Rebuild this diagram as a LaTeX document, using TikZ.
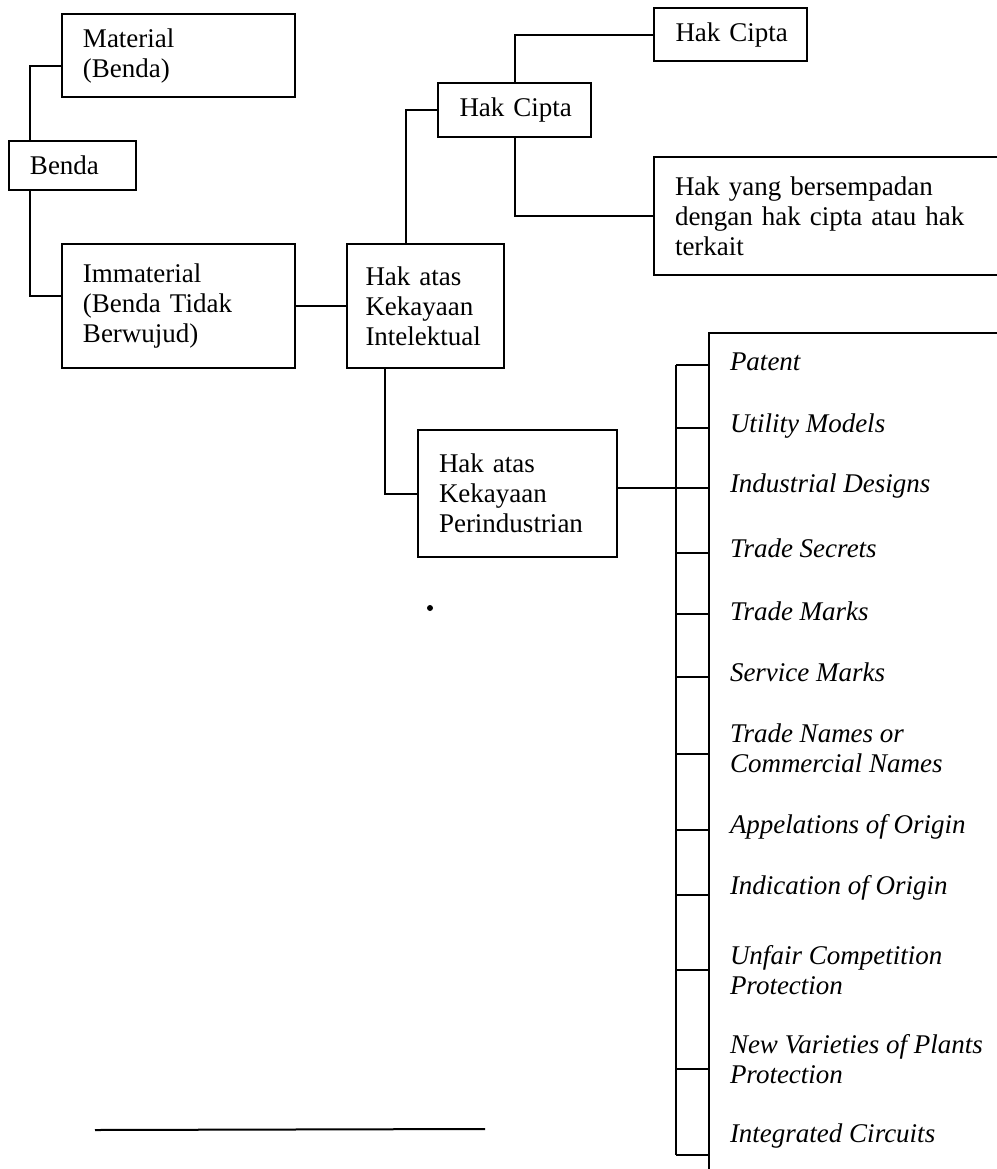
\documentclass[tikz,border=0pt]{standalone}
\usepackage{fontspec}
\setmainfont{Liberation Serif}
\begin{document}
\begin{tikzpicture}[x=0.4pt, y=-0.4pt, line width=0.8pt,
  box/.style = {draw, rectangle, align=left, inner xsep=8.4pt, inner ysep=0pt, font=\fontsize{10.8}{12}\selectfont},
  item/.style = {anchor=west, inner sep=0pt, align=left, font=\fontsize{10.8}{12}\selectfont\itshape}]
\useasboundingbox (0,0) rectangle (997,1169);
\clip (0,0) rectangle (997,1169);

% boxes
\node[box, text width=76.4pt, minimum height=33.2pt] (mat) at (178.5,55.5) {Material\\(Benda)};
\node[box, text width=34pt, minimum height=19.6pt] (benda) at (72.5,165.5) {Benda};
\node[box, text width=76.4pt, minimum height=49.6pt] (imm) at (178.5,306) {Immaterial\\(Benda Tidak\\Berwujud)};
\node[box, text width=48pt, inner xsep=7.5pt, minimum height=49.6pt] (haki) at (425.5,306) {Hak atas\\Kekayaan\\Intelektual};
\node[box, text width=50pt, inner xsep=5.6pt, minimum height=21.6pt] (hcm) at (514.5,110) {\hspace*{3pt}Hak Cipta};
\node[box, text width=50pt, inner xsep=5.6pt, minimum height=21.2pt] (hct) at (730.5,34.5) {\hspace*{3pt}Hak Cipta};
\node[box, text width=125.6pt, minimum height=47.2pt] (hy) at (832,216) {Hak yang bersempadan\\dengan hak cipta atau hak\\terkait};
\node[box, text width=62.8pt, minimum height=50.8pt] (hakp) at (517.5,493.5) {Hak atas\\Kekayaan\\Perindustrian};

% connectors
\draw ([yshift=-4.2pt]mat.west) -| ([xshift=-17pt]benda.north);
\draw ([xshift=-17pt]benda.south) |- ([yshift=4pt]imm.west);
\draw (imm.east) -- (haki.west);
\draw ([xshift=-7.8pt]haki.north) |- (hcm.west);
\draw (hcm.north) |- (hct.west);
\draw (hcm.south) |- (hy.west);
\draw ([xshift=-16.2pt]haki.south) |- (hakp.west);
\draw ([yshift=2.2pt]hakp.east) -- +(23.6pt,0);

% bracket of the list
\draw (676,365) -- (676,1155);
\foreach \t in {365,428,488,553,614,677,754,830,895,970,1069,1155}
  \draw (676,\t) -- (709,\t);
\draw (1010,333) -- (709,333) -- (709,1180);

% list
\node[item] (pat) at (729,362) {Patent};
\node[item] (util) at (729,426) {Utility Models};
\node[item] (indd) at (729,486) {Industrial Designs};
\node[item] (trsec) at (729,548) {Trade Secrets};
\node[item] (trmk) at (729,611) {Trade Marks};
\node[item] (svmk) at (729,672) {Service Marks};
\node[item] (trnm) at (729,748) {Trade Names or\\Commercial Names};
\node[item] (appor) at (729,827) {Appelations of Origin};
\node[item] (indor) at (729,888) {Indication of Origin};
\node[item] (unfair) at (729,970) {Unfair Competition\\Protection};
\node[item] (plants) at (729,1059) {New Varieties of Plants\\Protection};
\node[item] (intc) at (729,1136) {Integrated Circuits};

% footnote rule and speck
\draw (95,1130) -- (485,1129);
\fill (430,608) circle (1.2pt);
\end{tikzpicture}
\end{document}
